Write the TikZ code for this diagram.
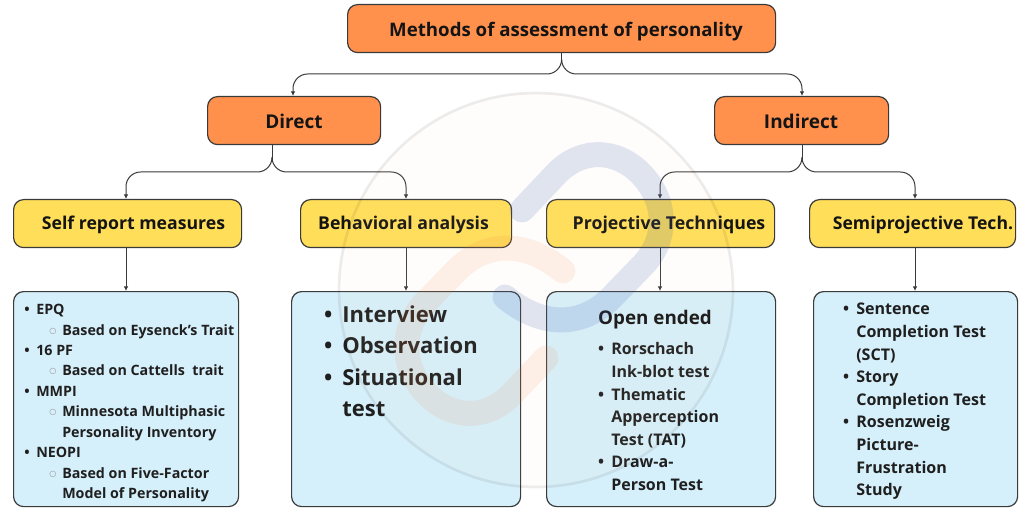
\documentclass[tikz,border=0pt]{standalone}
\usepackage{fontspec}
\setmainfont{Open Sans}[BoldFont={* Bold}]
\newfontfamily\symfont{DejaVu Sans}
\usetikzlibrary{arrows.meta}
\definecolor{orangebox}{HTML}{FF914D}
\definecolor{yellowbox}{HTML}{FFDE59}
\definecolor{bluebox}{HTML}{D6F0FB}
\definecolor{edgegrey}{HTML}{3A3A3A}
\definecolor{wmblue}{RGB}{40,80,170}
\definecolor{wmorange}{RGB}{240,120,50}
\newcommand{\fs}[2]{\fontsize{#1pt}{#2pt}\selectfont\bfseries}
\newcommand{\bul}{\makebox[0pt][r]{\textbullet\hspace{0.45em}}}
\newcommand{\cir}{\makebox[0pt][r]{\color{black!45}\symfont\fontsize{6pt}{8pt}\selectfont\raisebox{1.5pt}{○}\hspace{0.75em}}}
\tikzset{
 x=0.75pt,y=-0.75pt,
 boxbase/.style={draw=edgegrey,line width=0.9pt,rounded corners=7.5pt,inner sep=0pt,anchor=north west},
 orangenode/.style={boxbase,fill=orangebox},
 yellownode/.style={boxbase,fill=yellowbox},
 bluenode/.style={boxbase,fill=bluebox},
 lab/.style={inner sep=0pt,text=black!92,text height=1.1em,text depth=.25em},
 listtext/.style={inner sep=0pt,anchor=north west,align=left,text=black!88},
 conn/.style={draw=edgegrey,line width=0.75pt,rounded corners=11pt,-{Latex[length=3.5pt,width=3.5pt]}},
 feed/.style={draw=edgegrey,line width=0.75pt},
}
\begin{document}
\begin{tikzpicture}
\useasboundingbox (0,0) rectangle (1024,513);
\fill[white] (0,0) rectangle (1024,513);
% boxes
\node[orangenode,minimum width=321pt,minimum height=36pt] (top) at (347,4) {};
\node[orangenode,minimum width=129.75pt,minimum height=36pt] (direct) at (207,96) {};
\node[orangenode,minimum width=130.5pt,minimum height=36pt] (indirect) at (714,96) {};
\node[yellownode,minimum width=171pt,minimum height=36pt] (self) at (13,199) {};
\node[yellownode,minimum width=158.25pt,minimum height=36pt] (behav) at (300,199) {};
\node[yellownode,minimum width=171pt,minimum height=36pt] (proj) at (546,199) {};
\node[yellownode,minimum width=154.5pt,minimum height=36pt] (semi) at (809,199) {};
\node[bluenode,minimum width=168.75pt,minimum height=161.25pt] (bself) at (13,291) {};
\node[bluenode,minimum width=171.75pt,minimum height=161.25pt] (bbehav) at (291,291) {};
\node[bluenode,minimum width=171.75pt,minimum height=161.25pt] (bproj) at (546,291) {};
\node[bluenode,minimum width=153pt,minimum height=161.25pt] (bsemi) at (813,291) {};
% labels
\node[lab,font=\fs{14}{16.5}] (ltop) at (566,31) {Methods of assessment of personality};
\node[lab,font=\fs{14.25}{16.5}] (ldirect) at (294,123) {Direct};
\node[lab,font=\fs{14.25}{16.5}] (lindirect) at (801,123) {Indirect};
\node[lab,font=\fs{13.25}{15}] (lself) at (133.5,224) {Self report measures};
\node[lab,font=\fs{13.25}{15}] (lbehav) at (403.5,224) {Behavioral analysis};
\node[lab,font=\fs{13.3}{15}] (lproj) at (669,224) {Projective Techniques};
\node[lab,font=\fs{13.2}{15}] (lsemi) at (923,224) {Semiprojective Tech.};
% lists
\node[listtext,font=\fs{10.7}{15.34}] (t1) at (36,304) {%
\bul EPQ\\
\hspace*{19.5pt}\cir Based on Eysenck’s Trait\\
\bul 16 PF\\
\hspace*{19.5pt}\cir Based on Cattells\ \ trait\\
\bul MMPI\\
\hspace*{19.5pt}\cir Minnesota Multiphasic\\
\hspace*{19.5pt}Personality Inventory\\
\bul NEOPI\\
\hspace*{19.5pt}\cir Based on Five-Factor\\
\hspace*{19.5pt}Model of Personality};
\node[listtext,font=\fs{16.5}{23.6}] (t2) at (342,305.5) {%
\bul Interview\\
\bul Observation\\
\bul Situational\\
test};
\node[lab,font=\fs{14.1}{16.5}] (t3h) at (655,319) {Open ended};
\node[listtext,font=\fs{12}{16.95}] (t3) at (611,342.5) {%
\bul Rorschach\\
Ink-blot test\\
\bul Thematic\\
Apperception\\
Test (TAT)\\
\bul Draw-a-\\
Person Test};
\node[listtext,font=\fs{12.05}{16.95}] (t4) at (856,303) {%
\bul Sentence\\
Completion Test\\
(SCT)\\
\bul Story\\
Completion Test\\
\bul Rosenzweig\\
Picture-\\
Frustration\\
Study};
% connectors
\coordinate (dsplit) at (272,144);
\draw[feed] (top.south) -- ++(0,10);
\draw[conn] (top.south) ++(0,10) |- (293,74) -- (293,96);
\draw[conn] (top.south) ++(0,10) |- (802,74) -- (802,96);
\draw[feed] (dsplit) -- ++(0,18);
\draw[conn] (dsplit) ++(0,18) |- (126,172) -- (126,199);
\draw[conn] (dsplit) ++(0,18) |- (406,172) -- (406,199);
\coordinate (isplit) at (802,144);
\draw[feed] (isplit) -- ++(0,18);
\draw[conn] (isplit) ++(0,18) |- (660,172) -- (660,199);
\draw[conn] (isplit) ++(0,18) |- (915,172) -- (915,199);
\draw[conn] (126,247) -- (126,291);
\draw[conn] (406,247) -- (406,291);
\draw[conn] (660,247) -- (660,291);
\draw[conn] (915,247) -- (915,291);
% watermark
\fill[orange!30!white,opacity=.05] (536,290) circle[radius=147.75pt];
\draw[black,opacity=.07,line width=2pt] (536,290) circle[radius=147.75pt];
\def\bluelink{(522,210) -- (557,173) .. controls (583,147) and (617,150) .. (640,173) .. controls (668,201) and (668,240) .. (642,266) -- (612,297) .. controls (585,325) and (545,330) .. (505,297)}
\draw[line width=18.75pt,line cap=round,draw=wmblue,opacity=.14] \bluelink;
\begin{scope}[shift={(1068,568)},xscale=-1,yscale=-1]
\draw[line width=18.75pt,line cap=round,draw=wmorange,opacity=.10] \bluelink;
\end{scope}
\end{tikzpicture}
\end{document}
